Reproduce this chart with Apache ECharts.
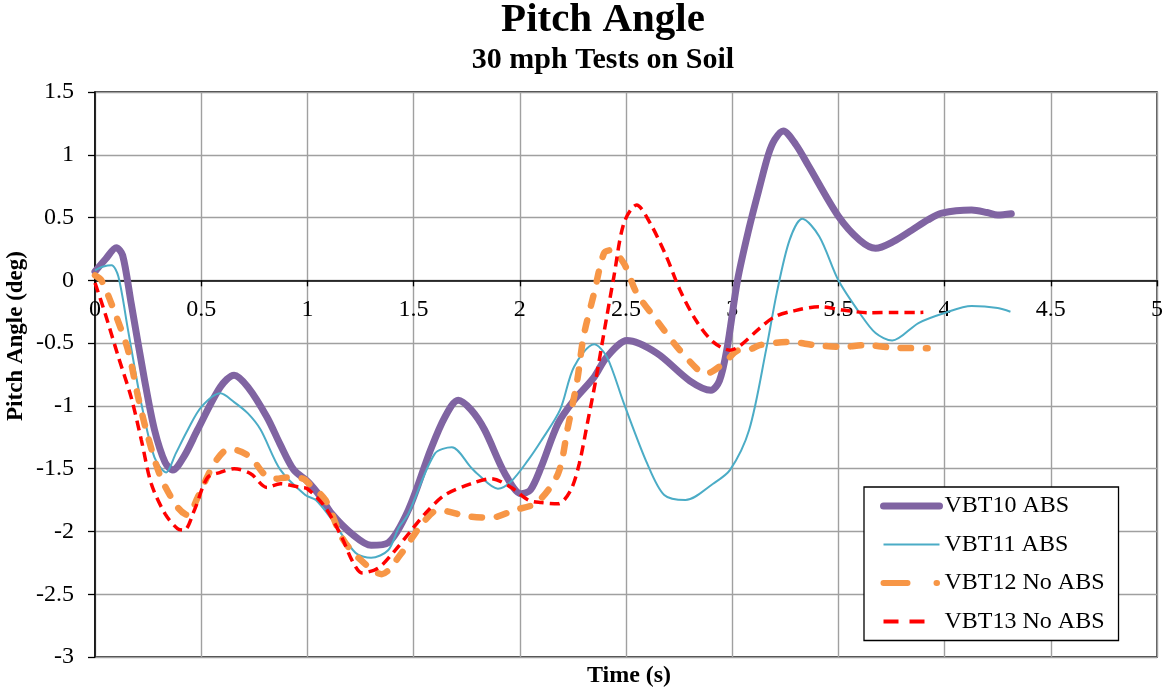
<!DOCTYPE html>
<html>
<head>
<meta charset="utf-8">
<script src="https://cdn.jsdelivr.net/npm/echarts@6/dist/echarts.min.js"></script>
<style>
html,body{margin:0;padding:0;background:#fff;}
#chart{width:1166px;height:687px;}
</style>
</head>
<body>
<div id="chart"></div>
<script>
// ---- data (time s, pitch angle deg) ----
const seriesNames = ['VBT10 ABS', 'VBT11 ABS', 'VBT12 No ABS', 'VBT13 No ABS'];
const xTicks = [0, 0.5, 1, 1.5, 2, 2.5, 3, 3.5, 4, 4.5, 5];
const yTicks = [-3, -2.5, -2, -1.5, -1, -0.5, 0, 0.5, 1, 1.5];

const vbt10 = [
  [0,0.07],[0.05,0.17],[0.1,0.26],[0.13,0.2],[0.17,-0.18],[0.234,-0.80],[0.28,-1.19],[0.33,-1.45],
  [0.366,-1.51],[0.42,-1.40],[0.483,-1.19],[0.59,-0.85],[0.655,-0.755],[0.72,-0.85],[0.81,-1.09],
  [0.87,-1.30],[0.936,-1.51],[1.0,-1.60],[1.06,-1.72],[1.115,-1.86],[1.21,-2.02],[1.30,-2.11],
  [1.38,-2.09],[1.475,-1.83],[1.58,-1.35],[1.647,-1.09],[1.71,-0.955],[1.77,-1.03],[1.834,-1.19],
  [1.93,-1.54],[2.006,-1.70],[2.05,-1.67],[2.10,-1.49],[2.18,-1.14],[2.255,-0.955],[2.35,-0.77],
  [2.41,-0.61],[2.505,-0.48],[2.645,-0.58],[2.80,-0.80],[2.90,-0.875],[2.94,-0.80],[2.975,-0.55],
  [3.025,0],[3.08,0.42],[3.13,0.75],[3.17,1.0],[3.2,1.12],[3.24,1.19],[3.30,1.08],[3.36,0.91],
  [3.50,0.51],[3.60,0.32],[3.675,0.255],[3.76,0.31],[3.846,0.40],[3.92,0.48],[3.987,0.535],
  [4.127,0.56],[4.2,0.54],[4.25,0.52],[4.314,0.53]
];
const vbt11 = [
  [0,0.08],[0.04,0.11],[0.078,0.12],[0.11,0.03],[0.156,-0.40],[0.218,-0.98],[0.28,-1.41],[0.335,-1.53],
  [0.38,-1.38],[0.437,-1.19],[0.50,-1.01],[0.59,-0.90],[0.655,-0.97],[0.72,-1.06],[0.78,-1.19],
  [0.873,-1.51],[0.99,-1.71],[1.04,-1.75],[1.117,-1.91],[1.226,-2.17],[1.30,-2.21],[1.38,-2.15],
  [1.43,-1.97],[1.475,-1.86],[1.60,-1.38],[1.68,-1.33],[1.77,-1.49],[1.80,-1.54],[1.897,-1.66],
  [1.96,-1.60],[2.04,-1.43],[2.10,-1.28],[2.19,-1.03],[2.255,-0.69],[2.35,-0.51],[2.41,-0.61],
  [2.49,-0.98],[2.60,-1.46],[2.68,-1.71],[2.78,-1.75],[2.91,-1.62],[2.99,-1.51],[3.08,-1.19],
  [3.16,-0.55],[3.21,-0.10],[3.27,0.32],[3.33,0.49],[3.41,0.35],[3.50,0.0],[3.60,-0.26],
  [3.675,-0.42],[3.753,-0.48],[3.877,-0.34],[4.0,-0.26],[4.127,-0.205],[4.25,-0.22],[4.31,-0.25]
];
const vbt12 = [
  [0,0.04],[0.03,0.0],[0.094,-0.26],[0.156,-0.56],[0.203,-0.93],[0.25,-1.25],[0.31,-1.57],[0.39,-1.81],
  [0.437,-1.87],[0.483,-1.73],[0.53,-1.56],[0.56,-1.46],[0.624,-1.35],[0.655,-1.35],[0.733,-1.41],
  [0.795,-1.54],[0.85,-1.58],[0.905,-1.57],[0.98,-1.58],[1.0075,-1.62],[1.085,-1.75],[1.163,-2.05],
  [1.24,-2.21],[1.35,-2.34],[1.44,-2.18],[1.54,-1.94],[1.616,-1.83],[1.756,-1.88],[1.865,-1.89],
  [1.975,-1.83],[2.08,-1.77],[2.18,-1.54],[2.224,-1.19],[2.27,-0.80],[2.30,-0.45],[2.35,-0.10],
  [2.396,0.215],[2.427,0.24],[2.49,0.135],[2.55,-0.10],[2.645,-0.32],[2.74,-0.53],[2.85,-0.73],
  [2.88,-0.74],[2.96,-0.66],[3.035,-0.556],[3.07,-0.556],[3.13,-0.516],[3.27,-0.49],[3.39,-0.516],
  [3.52,-0.53],[3.63,-0.516],[3.75,-0.535],[3.877,-0.54],[3.92,-0.54]
];
const vbt13 = [
  [0,-0.02],[0.047,-0.26],[0.11,-0.61],[0.17,-0.93],[0.218,-1.27],[0.265,-1.62],[0.33,-1.86],[0.39,-1.98],
  [0.42,-1.99],[0.468,-1.83],[0.53,-1.57],[0.59,-1.53],[0.655,-1.50],[0.733,-1.54],[0.81,-1.65],
  [0.873,-1.62],[0.967,-1.65],[1.0,-1.66],[1.085,-1.81],[1.163,-2.05],[1.21,-2.23],[1.257,-2.33],
  [1.335,-2.29],[1.413,-2.15],[1.49,-1.99],[1.553,-1.86],[1.647,-1.71],[1.77,-1.62],[1.865,-1.58],
  [1.96,-1.65],[2.04,-1.75],[2.10,-1.77],[2.18,-1.78],[2.24,-1.67],[2.28,-1.46],[2.318,-1.14],
  [2.357,-0.80],[2.396,-0.42],[2.443,0.03],[2.49,0.455],[2.55,0.60],[2.614,0.455],[2.69,0.19],
  [2.754,-0.077],[2.83,-0.32],[2.91,-0.49],[2.99,-0.556],[3.03,-0.53],[3.13,-0.38],[3.2,-0.29],
  [3.285,-0.245],[3.41,-0.21],[3.52,-0.237],[3.643,-0.258],[3.768,-0.256],[3.877,-0.256],[3.9,-0.255]
];

const FONT = '"Liberation Serif","Times New Roman",serif';
const chart = echarts.init(document.getElementById('chart'), null, {renderer: 'canvas'});

const GRID_TOP = 92, GRID_BOTTOM = 30, H = 687;
const plotH = H - GRID_TOP - GRID_BOTTOM;
const yMin = yTicks[0], yMax = yTicks[yTicks.length - 1];
// move the x axis (line, ticks, labels) up to the y = 0 line
const zeroOffset = -plotH * (0 - yMin) / (yMax - yMin);

const option = {
  animation: false,
  backgroundColor: '#fff',
  textStyle: {fontFamily: FONT},
  grid: {left: 95, right: 3, top: GRID_TOP, bottom: GRID_BOTTOM, show: true, borderColor: '#000', borderWidth: 1.3, backgroundColor: 'transparent'},
  xAxis: {
    type: 'value', min: xTicks[0], max: xTicks[xTicks.length - 1], interval: 0.5,
    position: 'bottom', offset: zeroOffset,
    axisLine: {onZero: false, lineStyle: {color: '#000', width: 1.5}},
    axisTick: {show: true, inside: false, length: 6, lineStyle: {color: '#000', width: 1.3}},
    axisLabel: {margin: 17, fontSize: 24, color: '#000', fontFamily: FONT, showMaxLabel: true, showMinLabel: true,
                hideOverlap: false, alignMinLabel: 'center', alignMaxLabel: 'center'},
    splitLine: {show: true, lineStyle: {color: '#A0A0A0', width: 1.4}}
  },
  yAxis: {
    type: 'value', min: yMin, max: yMax, interval: 0.5,
    axisLine: {show: true, onZero: false, lineStyle: {color: '#000', width: 1.5}},
    axisTick: {show: true, inside: false, length: 7, lineStyle: {color: '#000', width: 1.3}},
    axisLabel: {margin: 21, fontSize: 24, color: '#000', fontFamily: FONT},
    splitLine: {show: true, lineStyle: {color: '#A0A0A0', width: 1.4}}
  },
  legend: {
    orient: 'vertical', left: 864, top: 487,
    padding: [7, 14, 7, 16],
    itemWidth: 56, itemHeight: 24, itemGap: 14.5,
    backgroundColor: '#fff', borderColor: '#000', borderWidth: 1.3,
    itemStyle: {opacity: 0},
    textStyle: {fontSize: 24, color: '#000', fontFamily: FONT, lineHeight: 24},
    data: [
      {name: seriesNames[0], lineStyle: {width: 7, cap: 'round'}},
      {name: seriesNames[1], lineStyle: {width: 2}},
      {name: seriesNames[2], lineStyle: {width: 6, cap: 'round', type: [24, 29, 0.5, 20]}},
      {name: seriesNames[3], lineStyle: {width: 4, type: [15, 11, 15, 40]}}
    ]
  },
  graphic: [
    {type: 'text', x: 603, y: 20, style: {text: 'Pitch Angle', align: 'center', verticalAlign: 'middle', font: 'bold 41px ' + FONT, fill: '#000'}},
    {type: 'text', x: 603, y: 60, style: {text: '30 mph Tests on Soil', align: 'center', verticalAlign: 'middle', font: 'bold 30px ' + FONT, fill: '#000'}},
    {type: 'text', x: 629, y: 676, style: {text: 'Time (s)', align: 'center', verticalAlign: 'middle', font: 'bold 24px ' + FONT, fill: '#000'}},
    {type: 'text', x: 16, y: 336, rotation: Math.PI / 2, style: {text: 'Pitch Angle (deg)', align: 'center', verticalAlign: 'middle', font: 'bold 23px ' + FONT, fill: '#000'}}
  ],
  series: [
    {name: seriesNames[0], type: 'line', data: vbt10, smooth: 0.3, symbol: 'none', showSymbol: false, z: 2,
     lineStyle: {color: '#8064A2', width: 7, cap: 'round', join: 'round'}, itemStyle: {color: '#8064A2'}},
    {name: seriesNames[1], type: 'line', data: vbt11, smooth: 0.3, symbol: 'none', showSymbol: false, z: 3,
     lineStyle: {color: '#4BACC6', width: 2}, itemStyle: {color: '#4BACC6'}},
    {name: seriesNames[2], type: 'line', data: vbt12, smooth: 0.3, symbol: 'none', showSymbol: false, z: 4,
     lineStyle: {color: '#F79646', width: 6.5, type: [10, 15], cap: 'round'}, itemStyle: {color: '#F79646'}},
    {name: seriesNames[3], type: 'line', data: vbt13, smooth: 0.3, symbol: 'none', showSymbol: false, z: 5,
     lineStyle: {color: '#FF0000', width: 3.5, type: [10, 6]}, itemStyle: {color: '#FF0000'}}
  ]
};
chart.setOption(option);
</script>
</body>
</html>
